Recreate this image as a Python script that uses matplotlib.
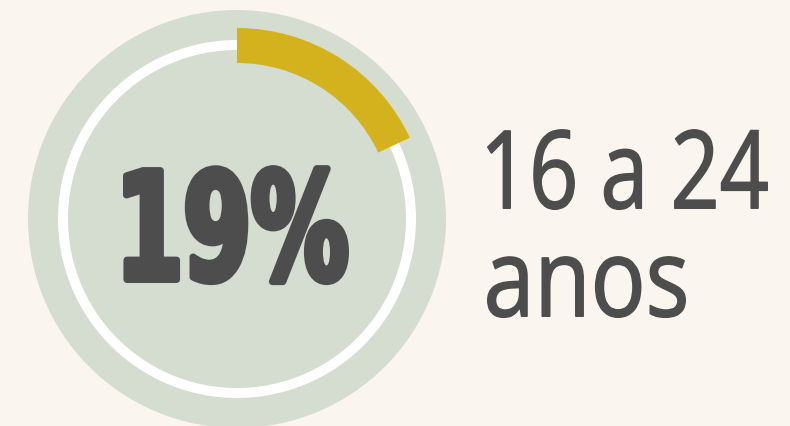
import matplotlib
matplotlib.use("Agg")
import matplotlib.pyplot as plt
from matplotlib import font_manager
from matplotlib.font_manager import FontProperties
from matplotlib.patches import Circle, Wedge
from matplotlib.patheffects import AbstractPathEffect
from matplotlib.textpath import TextPath
from matplotlib.transforms import Affine2D

# data
share_label = "19%"
arc_share = 0.18          # gold arc sweep as a share of the full circle
age_lines = ["16 a 24", "anos"]

BG = "#faf6ef"
SAGE = "#d4ddd0"
GOLD = "#d4b21e"
INK = "#4d4d4d"
W, H = 790, 426
CX, CY = 237, H - 219


class Stretch(AbstractPathEffect):
    """Stretch the glyphs vertically around the baseline (display px), optional stroke."""

    def __init__(self, sy, y0, stroke=0.0):
        super().__init__()
        self.sy, self.y0, self.stroke = sy, y0, stroke

    def draw_path(self, renderer, gc, tpath, affine, rgbFace=None):
        t = affine + Affine2D().translate(0, -self.y0).scale(1, self.sy).translate(0, self.y0)
        gc0 = renderer.new_gc()
        gc0.copy_properties(gc)
        if self.stroke:
            gc0.set_linewidth(self.stroke * 72 / 100)
            gc0.set_foreground(rgbFace)
            gc0.set_joinstyle("round")
        else:
            gc0.set_linewidth(0)
        renderer.draw_path(gc0, tpath, t, rgbFace)
        gc0.restore()


def fit(text, prop, box_w, box_h):
    # font size that gives the ink width, and the vertical stretch for the ink height
    ext = TextPath((0, 0), text, size=100, prop=prop).get_extents()
    size = box_w * 72 / ext.width
    sy = box_h / (ext.height * size / 72)
    return size, sy, ext.x0 * size / 72


names = {f.name for f in font_manager.fontManager.ttflist}
narrow = "Liberation Sans Narrow" in names
big_prop = FontProperties(family="Liberation Sans Narrow" if narrow else "DejaVu Sans", weight="bold")
label_prop = FontProperties(family="Liberation Sans Narrow" if narrow else "Open Sans")

fig = plt.figure(figsize=(7.9, 4.26), dpi=100, facecolor=BG)
ax = fig.add_axes([0, 0, 1, 1])
ax.set_xlim(0, W)
ax.set_ylim(0, H)
ax.axis("off")

ax.add_patch(Circle((CX, CY), 209, color=SAGE, lw=0, zorder=1))
ax.add_patch(Wedge((CX, CY), 179, 0, 360, width=10, color="white", lw=0, zorder=2))
ax.add_patch(Wedge((CX, CY), 191, 90 - 360 * arc_share, 90, width=35, color=GOLD, lw=0, zorder=3))

# big percentage
s = 7
size, sy, bear = fit(share_label, big_prop, 226 - s, 120 - s)
y0 = H - (283 - s / 2)
ax.text(123 + s / 2 - bear, y0, share_label, fontproperties=big_prop, fontsize=size,
        color=INK, ha="left", va="baseline", zorder=4,
        path_effects=[Stretch(sy, y0, stroke=s)])

# age group label: ink box (width, height) and baseline of each line
s = 1.6
boxes = [(281, 81, 209), (199, 62, 317)]
for line, (bw, bh, base) in zip(age_lines, boxes):
    size, sy, bear = fit(line, label_prop, bw - s, bh - s)
    y0 = H - (base - s / 2)
    ax.text(487 + s / 2 - bear, y0, line, fontproperties=label_prop, fontsize=size,
            color=INK, ha="left", va="baseline", zorder=4,
            path_effects=[Stretch(sy, y0, stroke=s)])

fig.savefig("out.png", dpi=100, facecolor=BG)
